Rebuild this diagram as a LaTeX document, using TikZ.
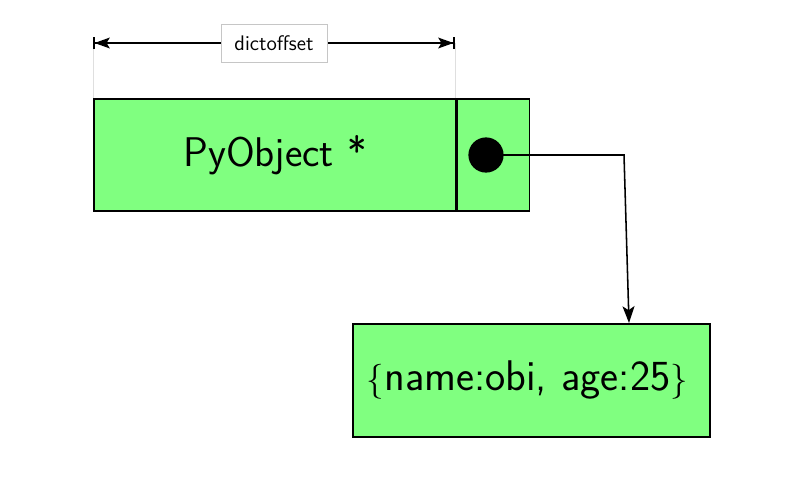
\documentclass[tikz,border=0pt]{standalone}
\usepackage{tikz}
\usetikzlibrary{arrows.meta,positioning}
\definecolor{boxgreen}{RGB}{128,255,128}

\begin{document}
\begin{tikzpicture}[
    x=0.025cm, y=-0.025cm,
    block/.style={draw, line width=1.2pt, fill=boxgreen, rectangle, inner sep=0pt, minimum height=2.8cm, font=\sffamily\fontsize{29.5}{34}\selectfont},
    arrow/.style={-{Stealth[length=0.42cm, width=0.3cm, inset=0.1cm]}, line width=1.1pt},
    dimline/.style={{Bar[width=0.3cm]Stealth[length=0.38cm, width=0.27cm, inset=0.08cm]}-{Stealth[length=0.38cm, width=0.27cm, inset=0.08cm]Bar[width=0.3cm]}, line width=1.1pt},
    label/.style={fill=white, draw=gray!45, line width=0.5pt, minimum width=2.65cm, minimum height=0.95cm, font=\sffamily\fontsize{15}{17}\selectfont}
]
    \useasboundingbox (0,0) rectangle (805,488);

    \node [block, minimum width=9.05cm, anchor=north west] (pyobj) at (93,98) {PyObject *};
    \node [block, minimum width=1.8cm, anchor=north west] (ptr) at (pyobj.north east) {};
    \node [circle, fill=black, inner sep=0pt, minimum size=0.88cm] (dot) at (486,155) {};
    \node [block, text width=8.225cm, inner xsep=0.35cm, align=left, minimum height=2.825cm, anchor=north west, font=\sffamily\fontsize{30.5}{36}\selectfont] (dict) at (352,323) {$\{$name:obi, age:25$\}$};

    \coordinate (bend) at (624,155);
    \draw [arrow] (dot.center) -- (bend) -- ([xshift=2.44cm]dict.north);

    % dictoffset measure
    \coordinate (dl) at (93,43);
    \coordinate (dr) at (455,43);
    \draw [gray!25, line width=0.5pt] (93,98) -- (dl);
    \draw [gray!25, line width=0.5pt] (455,98) -- (dr);
    \draw [dimline] (dl) -- (dr);
    \node [label] (offset) at (274,43) {dictoffset};

\end{tikzpicture}
\end{document}
